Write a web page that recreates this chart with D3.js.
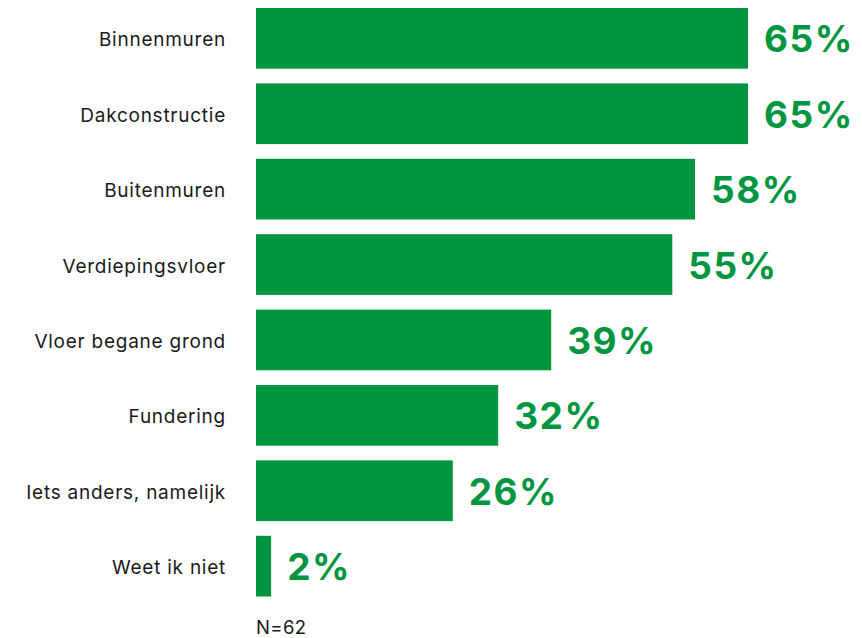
<!DOCTYPE html>
<html>
<head>
<meta charset="utf-8">
<script src="https://cdn.jsdelivr.net/npm/d3@7"></script>
<style>
  html, body { margin: 0; padding: 0; background: #ffffff; }
  svg { display: block; }
</style>
</head>
<body>
<svg id="chart" width="862" height="638"></svg>
<script>
// Survey answers and their share of respondents (%)
const categories = [
  "Binnenmuren",
  "Dakconstructie",
  "Buitenmuren",
  "Verdiepingsvloer",
  "Vloer begane grond",
  "Fundering",
  "Iets anders, namelijk",
  "Weet ik niet"
];
const values = [65, 65, 58, 55, 39, 32, 26, 2];
const sampleNote = "N=62";

const green = "#00953f";
const svg = d3.select("#chart");

const x = d3.scaleLinear()
  .domain([0, 100])
  .range([256, 256 + 756.9]);

const y = d3.scaleBand()
  .domain(categories)
  .range([0.65, 603.85])
  .paddingInner(0.195)
  .paddingOuter(0.0975);

// Bars
svg.append("g")
  .selectAll("rect")
  .data(categories)
  .join("rect")
  .attr("x", x(0))
  .attr("y", d => y(d))
  .attr("width", (d, i) => x(values[i]) - x(0))
  .attr("height", y.bandwidth())
  .attr("fill", green);

// Category axis on the left, no line or ticks
const yAxis = svg.append("g")
  .attr("transform", "translate(226,0)")
  .call(d3.axisLeft(y).tickSize(0).tickPadding(0));
yAxis.select(".domain").remove();
yAxis.selectAll("text")
  .attr("dy", null)
  .attr("y", 8)
  .attr("font-family", "Inter, 'Noto Sans', sans-serif")
  .attr("font-size", 19)
  .attr("letter-spacing", 0.75)
  .attr("fill", "#1a1a1a");

// Value labels at the end of each bar
svg.append("g")
  .selectAll("text")
  .data(categories)
  .join("text")
  .attr("x", (d, i) => x(values[i]) + 16)
  .attr("y", d => y(d) + y.bandwidth() / 2 + 14)
  .attr("font-family", "Inter, 'Noto Sans', sans-serif")
  .attr("font-weight", 700)
  .attr("font-size", 37)
  .attr("letter-spacing", 1.5)
  .attr("fill", green)
  .text((d, i) => values[i] + "%");

// Sample size note
svg.append("text")
  .attr("x", x(0))
  .attr("y", 634)
  .attr("font-family", "Inter, 'Noto Sans', sans-serif")
  .attr("font-size", 18.5)
  .attr("letter-spacing", 0.4)
  .attr("fill", "#1a1a1a")
  .text(sampleNote);
</script>
</body>
</html>
